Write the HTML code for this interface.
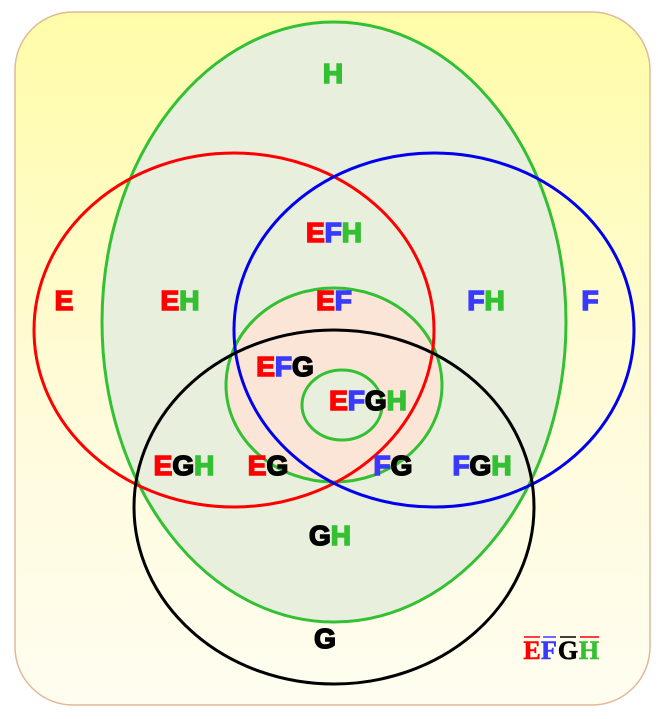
<!DOCTYPE html>
<html><head><meta charset="utf-8"><style>
html,body{margin:0;padding:0;background:#fff;}
svg{display:block}
text{font-family:"Liberation Sans",Arial,sans-serif;font-weight:bold;font-size:28px;text-anchor:middle;stroke-width:1.6px;paint-order:stroke}
.r{fill:#ff0000;stroke:#ff0000}.b{fill:#3a3aff;stroke:#3a3aff}.k{fill:#000;stroke:#000}.g{fill:#33c033;stroke:#33c033}
.lg{font-family:"Liberation Serif",serif;font-size:26px;stroke-width:0.6px}
</style></head><body>
<svg width="658" height="719" viewBox="0 0 658 719" xmlns="http://www.w3.org/2000/svg">
<defs>
<linearGradient id="bg" x1="0" y1="0" x2="0" y2="1">
<stop offset="0" stop-color="#fffca8"/><stop offset="0.6" stop-color="#fffbdc"/><stop offset="1" stop-color="#fffdf0"/>
</linearGradient>
</defs>
<rect x="15" y="12" width="635" height="693" rx="58" ry="58" fill="url(#bg)" stroke="#e2b898" stroke-width="1.5"/>
<ellipse cx="334" cy="322" rx="232" ry="300" fill="#e8efdc" stroke="#33c033" stroke-width="3"/>
<ellipse cx="334" cy="385" rx="108" ry="97" fill="#fbe5d6" stroke="#33c033" stroke-width="3"/>
<ellipse cx="342" cy="405" rx="40" ry="35" fill="#e8efdc" stroke="#33c033" stroke-width="3"/>
<ellipse cx="234" cy="330" rx="200" ry="177" fill="none" stroke="#ff0000" stroke-width="3"/>
<ellipse cx="434" cy="330" rx="200" ry="177" fill="none" stroke="#0000ee" stroke-width="3"/>
<ellipse cx="334" cy="507" rx="200" ry="177" fill="none" stroke="#000" stroke-width="3"/>
<text x="333" y="83"><tspan class="g">H</tspan></text>
<text x="64" y="310"><tspan class="r">E</tspan></text>
<text x="180" y="310"><tspan class="r">E</tspan><tspan class="g">H</tspan></text>
<text x="334" y="242"><tspan class="r">E</tspan><tspan class="b">F</tspan><tspan class="g">H</tspan></text>
<text x="334" y="310"><tspan class="r">E</tspan><tspan class="b">F</tspan></text>
<text x="486" y="310"><tspan class="b">F</tspan><tspan class="g">H</tspan></text>
<text x="590" y="310"><tspan class="b">F</tspan></text>
<text x="285" y="376"><tspan class="r">E</tspan><tspan class="b">F</tspan><tspan class="k">G</tspan></text>
<text x="368" y="410"><tspan class="r">E</tspan><tspan class="b">F</tspan><tspan class="k">G</tspan><tspan class="g">H</tspan></text>
<text x="184" y="475"><tspan class="r">E</tspan><tspan class="k">G</tspan><tspan class="g">H</tspan></text>
<text x="268" y="475"><tspan class="r">E</tspan><tspan class="k">G</tspan></text>
<text x="393" y="475"><tspan class="b">F</tspan><tspan class="k">G</tspan></text>
<text x="482" y="475"><tspan class="b">F</tspan><tspan class="k">G</tspan><tspan class="g">H</tspan></text>
<text x="330" y="545"><tspan class="k">G</tspan><tspan class="g">H</tspan></text>
<text x="325" y="648"><tspan class="k">G</tspan></text>
<text x="532" y="659" class="lg r">E</text>
<text x="549" y="659" class="lg b">F</text>
<text x="568" y="659" class="lg k">G</text>
<text x="589" y="659" class="lg g">H</text>
<line x1="524" y1="637" x2="540" y2="637" stroke="#ff0000" stroke-width="1.5"/>
<line x1="543" y1="637" x2="556" y2="637" stroke="#3a3aff" stroke-width="1.5"/>
<line x1="560" y1="637" x2="576" y2="637" stroke="#000" stroke-width="1.5"/>
<line x1="580" y1="637" x2="599" y2="637" stroke="#ff0000" stroke-width="1.5"/>
</svg>
</body></html>
